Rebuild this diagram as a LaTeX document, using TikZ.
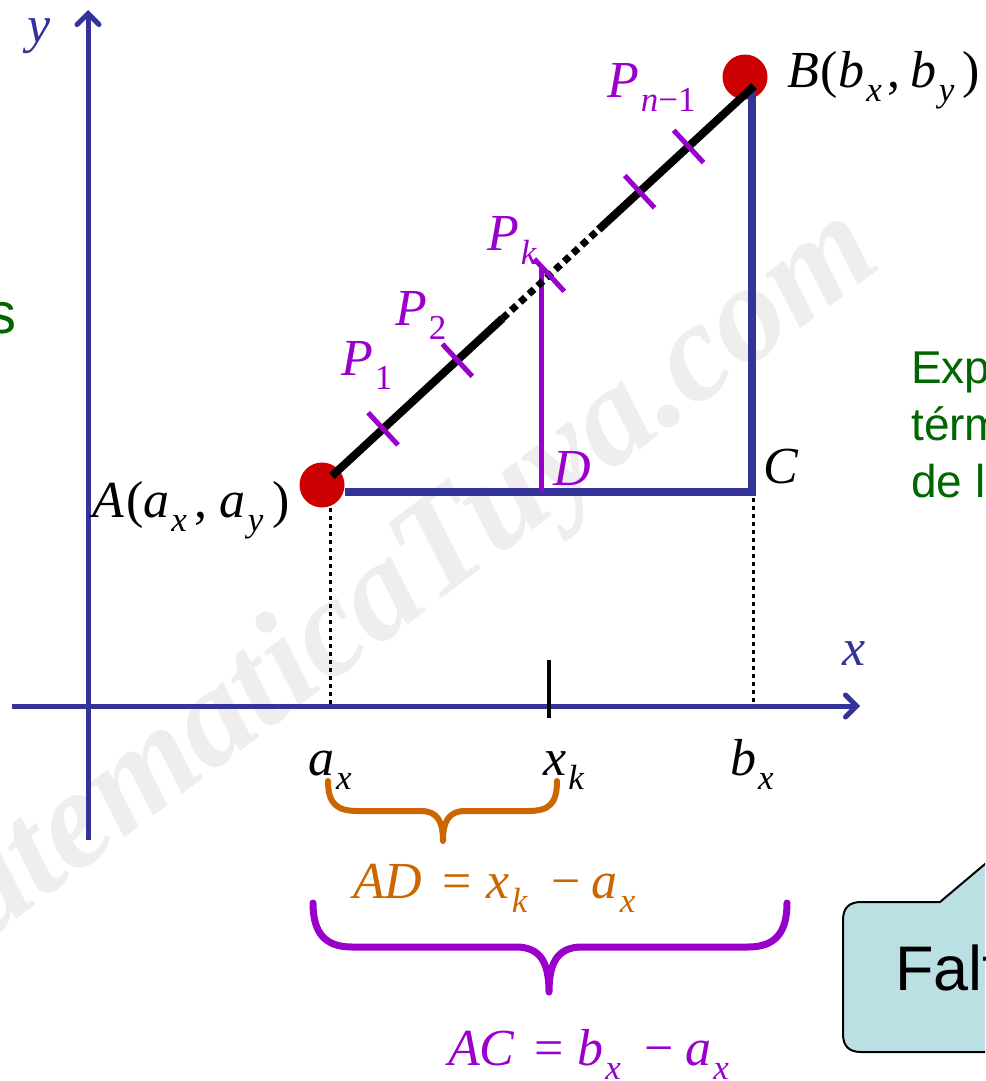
\documentclass[tikz,border=0pt]{standalone}
\usepackage{fontspec}
\setmainfont{Liberation Serif}
\newfontfamily\sansf{Liberation Sans}
\usetikzlibrary{arrows.meta,calc}
\definecolor{axisblue}{HTML}{333399}
\definecolor{ptred}{HTML}{CC0000}
\definecolor{purp}{HTML}{9900CC}
\definecolor{orng}{HTML}{CC6600}
\definecolor{grn}{HTML}{006600}
\definecolor{calloutfill}{HTML}{BBE0E3}
\definecolor{wmark}{HTML}{EFEDEE}
\newcommand\sbs[1]{\kern2pt\raisebox{-0.27em}{\fontsize{35}{35}\selectfont\itshape #1}}
\newcommand\sbr[1]{\kern2pt\raisebox{-0.27em}{\fontsize{35}{35}\selectfont #1}}
\begin{document}
\begin{tikzpicture}[x=1pt,y=-1pt,
  lab/.style={inner sep=0pt, font=\fontsize{52}{52}\selectfont},
  greentxt/.style={inner sep=0pt, text=grn, font=\sansf\fontsize{46}{46}\selectfont},
  axisline/.style={draw=axisblue, line width=5pt, -{Straight Barb[length=11pt,width=22pt,line cap=round]}},
  triline/.style={draw=axisblue, line width=8pt},
  segline/.style={draw=black, line width=8pt},
  dotseg/.style={draw=black, line width=7pt, dash pattern=on 7pt off 5pt},
  guide/.style={draw=black, line width=3pt, dash pattern=on 4pt off 4pt},
  tickmark/.style={draw=purp, line width=5pt},
  ptdot/.style={circle, fill=ptred, minimum size=45pt, inner sep=0pt},
  bracepath/.style={line width=6pt, line cap=round, line join=round}]
\useasboundingbox (0,0) rectangle (985,1081);
\clip (0,0) rectangle (985,1081);
\fill[white] (0,0) rectangle (985,1081);

% watermark
\node[inner sep=0pt, text=wmark, rotate=37, anchor=base east,
  font=\fontsize{140}{140}\selectfont\bfseries\itshape] (wm) at (885,265) {matematicaTuya.com};

% axes
\coordinate (ybot) at (88,840);
\coordinate (ytop) at (88,10);
\coordinate (xleft) at (12,706);
\coordinate (xright) at (860,706);
\draw[axisline] (ybot) -- (ytop);
\draw[axisline] (xleft) -- (xright);
\node[lab, anchor=base west, text=axisblue] (ylab) at (27,43) {\textit{y}};
\node[lab, anchor=base west, text=axisblue] (xlab) at (842,665) {\textit{x}};

% points
\node[ptdot] (A) at (322,485) {};
\node[ptdot] (B) at (745,77) {};
\coordinate (Aend) at (332,476);
\coordinate (Bend) at (754,86);

% guides
\coordinate (Ag) at (330,508);
\coordinate (Ax) at (330,706);
\coordinate (Cg) at (753,498);
\coordinate (Bx) at (753,706);
\draw[guide] (Ag) -- (Ax);
\draw[guide] (Cg) -- (Bx);

% triangle
\coordinate (Hs) at (345,492);
\coordinate (C) at (752,492);
\coordinate (Vt) at (752,85);
\draw[triline, line join=miter] (Hs) -- (C) -- (Vt);

% purple vertical to Pk
\coordinate (D) at (541,492);
\coordinate (Pktop) at (541,268);
\draw[draw=purp, line width=5pt] (D) -- (Pktop);

% segment AB
\coordinate (S1) at ($(Aend)!0.404!(Bend)$);
\coordinate (S2) at ($(Aend)!0.632!(Bend)$);
\draw[segline] (Aend) -- (S1);
\draw[dotseg] (S1) -- (S2);
\draw[segline] (S2) -- (Bend);

% ticks
\foreach \t/\nm in {0.121/t1, 0.297/t2, 0.515/tk, 0.729/t4, 0.845/t5}{
  \coordinate (\nm) at ($(Aend)!\t!(Bend)$);
  \draw[tickmark] ($(\nm)!22pt!90:(Bend)$) -- ($(\nm)!22pt!-90:(Bend)$);
}

% x-axis tick
\coordinate (xkt) at (549,660);
\coordinate (xkb) at (549,718);
\draw[draw=black, line width=4pt] (xkt) -- (xkb);

% labels
\node[lab, anchor=base west] (Alab) at (92,517) {\textit{A}\kern2pt(\textit{a}\sbs{x}\kern8pt,\kern12pt\textit{a}\sbs{y}\kern9pt)};
\node[lab, anchor=base west] (Blab) at (787,87) {\textit{B}\kern2pt(\textit{b}\sbs{x}\kern6pt,\kern10pt\textit{b}\sbs{y}\kern8pt)};
\node[lab, anchor=base west] (Clab) at (763,483) {\textit{C}};
\node[lab, anchor=base west, text=purp] (Dlab) at (553,485) {\textit{D}};
\node[lab, anchor=base west, text=purp] (P1) at (341,375) {\textit{P}\sbr{1}};
\node[lab, anchor=base west, text=purp] (P2) at (395,325) {\textit{P}\sbr{2}};
\node[lab, anchor=base west, text=purp] (Pk) at (487,250) {\textit{P}\sbs{k}};
\node[lab, anchor=base west, text=purp] (Pn) at (607,97) {\textit{P}\kern2pt\raisebox{-0.27em}{\fontsize{35}{35}\selectfont\textit{n}−1}};

\node[lab, anchor=base west] (ax) at (308,775) {\textit{a}\sbs{x}};
\node[lab, anchor=base west] (xk) at (543,775) {\textit{x}\sbs{k}};
\node[lab, anchor=base west] (bx) at (730,775) {\textit{b}\sbs{x}};

% braces
\draw[draw=orng, bracepath] (328,781) .. controls (328,804) and (337,811) .. (358,811) -- (421,811)
  .. controls (437,811) and (443,821) .. (443,841)
  .. controls (443,821) and (449,811) .. (465,811) -- (528,811)
  .. controls (549,811) and (557,804) .. (557,781);
\node[lab, anchor=base west, text=orng] (AD) at (353,898) {\textit{AD}\kern20pt=\kern15pt\textit{x}\sbs{k}\kern24pt−\kern11pt\textit{a}\sbs{x}};

\draw[draw=purp, bracepath, line width=7pt] (313,903) .. controls (313,933) and (325,947) .. (352,947) -- (516,947)
  .. controls (540,947) and (549,962) .. (549,992)
  .. controls (549,962) and (558,947) .. (582,947) -- (748,947)
  .. controls (775,947) and (787,933) .. (787,903);
\node[lab, anchor=base west, text=purp] (AC) at (448,1065) {\textit{AC}\kern19pt=\kern14pt\textit{b}\sbs{x}\kern24pt−\kern11pt\textit{a}\sbs{x}};

% green text
\node[inner sep=0pt, text=grn, font=\sansf\fontsize{58}{58}\selectfont, anchor=base east] (s) at (17,333) {s};
\node[greentxt, anchor=base west] (g1) at (911,383) {Exp};
\node[greentxt, anchor=base west] (g2) at (911,440) {térm};
\node[greentxt, anchor=base west] (g3) at (911,497) {de l};

% callout
\draw[fill=calloutfill, draw=black, line width=2pt, line join=miter]
  (1030,826) -- (940,902) -- (861,902) .. controls (849,902) and (843,908) .. (843,920)
  -- (843,1034) .. controls (843,1046) and (849,1052) .. (861,1052) -- (1030,1052);
\node[inner sep=0pt, anchor=base west, font=\sansf\fontsize{63}{63}\selectfont] (falt) at (895,990) {Falt};
\end{tikzpicture}
\end{document}
